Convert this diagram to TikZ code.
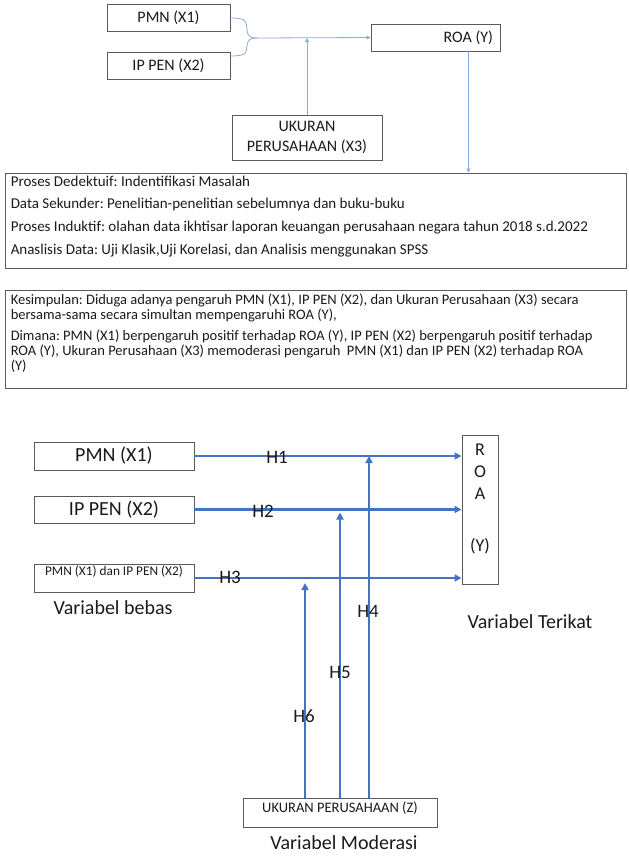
\documentclass[tikz,border=0pt]{standalone}
\usepackage{fontspec}
\setmainfont{Carlito}
\frenchspacing
\usetikzlibrary{arrows.meta, positioning, calc}
\definecolor{ltblue}{HTML}{8FAADC}
\definecolor{midblue}{HTML}{4472C4}
\definecolor{boxgray}{HTML}{5A5A5A}
\definecolor{txtdark}{HTML}{1A1A1A}

\begin{document}
\begin{tikzpicture}[x=1pt, y=-1pt,
  >={Triangle[length=7pt, width=7pt]},
  box/.style={draw=boxgray, line width=0.9pt, inner sep=0pt, align=center, text=txtdark},
  thinln/.style={line width=0.8pt, ltblue},
  thinarr/.style={-{Triangle[length=4pt, width=4pt]}, line width=0.8pt, ltblue},
  arr/.style={->, line width=2.5pt, midblue},
  hlab/.style={font=\fontsize{19}{19}\selectfont, text=txtdark},
  caption/.style={font=\fontsize{20}{20}\selectfont, text=txtdark},
]
\useasboundingbox (0,0) rectangle (629,857);

% === Top: research model ===
\node[box, minimum width=123pt, minimum height=27pt, font=\fontsize{16}{16}\selectfont] (pmnA) at (168.5,18) {PMN (X1)};
\node[box, minimum width=123pt, minimum height=27pt, font=\fontsize{16}{16}\selectfont] (ipenA) at (168.5,65.5) {IP PEN (X2)};
\node[box, minimum width=129pt, minimum height=27pt, inner xsep=7pt, text width=115pt, align=flush right,
  font=\fontsize{16}{16}\selectfont] (roaA) at (435.5,37.5) {ROA (Y)};
\node[box, minimum width=150pt, minimum height=45pt, font=\fontsize{16}{20}\selectfont] (ukurA) at (307,137.5)
  {UKURAN\\PERUSAHAAN (X3)};

% brace joining X1 and X2
\coordinate (join) at (258,38);
\draw[thinln] (pmnA.east) .. controls (248,18) and (246,22) .. (247,30) .. controls (248,37) and (250,38) .. (join);
\draw[thinln] ([yshift=9.5pt]ipenA.east) .. controls (248,56) and (246,52) .. (247,46) .. controls (248,39) and (250,38) .. (join);
\draw[thinarr] (join) -- (roaA.west);
\draw[thinarr] (ukurA.north) -- (ukurA.north |- join);

% === Process box ===
\node[box, minimum width=621pt, minimum height=95pt] (deduktif) at (315.5,220.5) {};
\node[anchor=north west, align=left, inner sep=0pt, text=txtdark, font=\fontsize{15}{22.7}\selectfont] (deduktifTxt)
  at ($(deduktif.north west)+(6,3)$)
  {Proses Dedektuif: Indentifikasi Masalah\\
   Data Sekunder: Penelitian-penelitian sebelumnya dan buku-buku\\
   Proses Induktif: olahan data ikhtisar laporan keuangan perusahaan negara tahun 2018 s.d.2022\\
   Anaslisis Data: Uji Klasik,Uji Korelasi, dan Analisis menggunakan SPSS};

\coordinate (roaDown) at ($(roaA.south east)+(-32,0)$);
\draw[thinarr] (roaDown) -- (roaDown |- deduktif.north);

% === Conclusion box ===
\node[box, minimum width=621pt, minimum height=98pt] (kesimpulan) at (315.5,339) {};
\node[anchor=north west, align=left, inner sep=0pt, text=txtdark, font=\fontsize{14.5}{15}\selectfont] (kesimpulanTxt)
  at ($(kesimpulan.north west)+(6,4)$)
  {Kesimpulan: Diduga adanya pengaruh PMN (X1), IP PEN (X2), dan Ukuran Perusahaan (X3) secara\\
   bersama-sama secara simultan mempengaruhi ROA (Y),\\[6pt]
   Dimana: PMN (X1) berpengaruh positif terhadap ROA (Y), IP PEN (X2) berpengaruh positif terhadap\\
   ROA (Y), Ukuran Perusahaan (X3) memoderasi pengaruh~ PMN (X1) dan IP PEN (X2) terhadap ROA\\
   (Y)};

% === Bottom: hypotheses ===
\node[box, minimum width=160pt, minimum height=28pt, font=\fontsize{20}{20}\selectfont] (pmnB) at (114,456) {PMN (X1)};
\node[box, minimum width=160pt, minimum height=27pt, font=\fontsize{20}{20}\selectfont] (ipenB) at (114,509.5) {IP PEN (X2)};
\node[box, minimum width=160pt, minimum height=28pt] (combB) at (114,578) {};
\node[anchor=north, inner sep=0pt, text=txtdark, font=\fontsize{13.3}{13.3}\selectfont] (combTxt)
  at ($(combB.north)+(0,2.5)$) {PMN (X1) dan IP PEN (X2)};
\node[caption] (bebas) at (113,608) {Variabel bebas};

\node[box, minimum width=36pt, minimum height=149pt] (roaB) at (480,509.5) {};
\node[anchor=north, inner sep=0pt, align=center, text=txtdark, font=\fontsize{18}{22}\selectfont] (roaTxt)
  at ($(roaB.north)+(0,9)$) {R\\O\\A\\[30pt](Y)};
\node[caption] (terikat) at (530,622) {Variabel Terikat};

\node[box, minimum width=194pt, minimum height=29pt] (ukurB) at (340,812.5) {};
\node[anchor=north, inner sep=0pt, text=txtdark, font=\fontsize{14.5}{14.5}\selectfont] (ukurTxt)
  at ($(ukurB.north)+(0,4)$) {UKURAN PERUSAHAAN (Z)};
\node[caption] (moderasi) at (344,843) {Variabel Moderasi};

% direct effects
\draw[arr] (pmnB.east) -- (pmnB.east -| roaB.west);
\draw[arr] (ipenB.east) -- (ipenB.east -| roaB.west);
\draw[arr] (combB.east) -- (combB.east -| roaB.west);

% moderating effects
\coordinate (mod1) at ($(ukurB.north)+(29,0)$);
\coordinate (mod2) at (ukurB.north);
\coordinate (mod3) at ($(ukurB.north)+(-35,0)$);
\draw[arr] (mod1) -- (mod1 |- pmnB.east);
\draw[arr] (mod2) -- ($(mod2 |- ipenB.east)+(0,3)$);
\draw[arr] (mod3) -- ($(mod3 |- combB.east)+(0,5)$);

% hypothesis labels
\node[hlab] (h1) at (277,457) {H1};
\node[hlab] (h2) at (263,511) {H2};
\node[hlab] (h3) at (230,577) {H3};
\node[hlab] (h4) at (368,611) {H4};
\node[hlab] (h5) at (340,672) {H5};
\node[hlab] (h6) at (304,716) {H6};

\end{tikzpicture}
\end{document}
